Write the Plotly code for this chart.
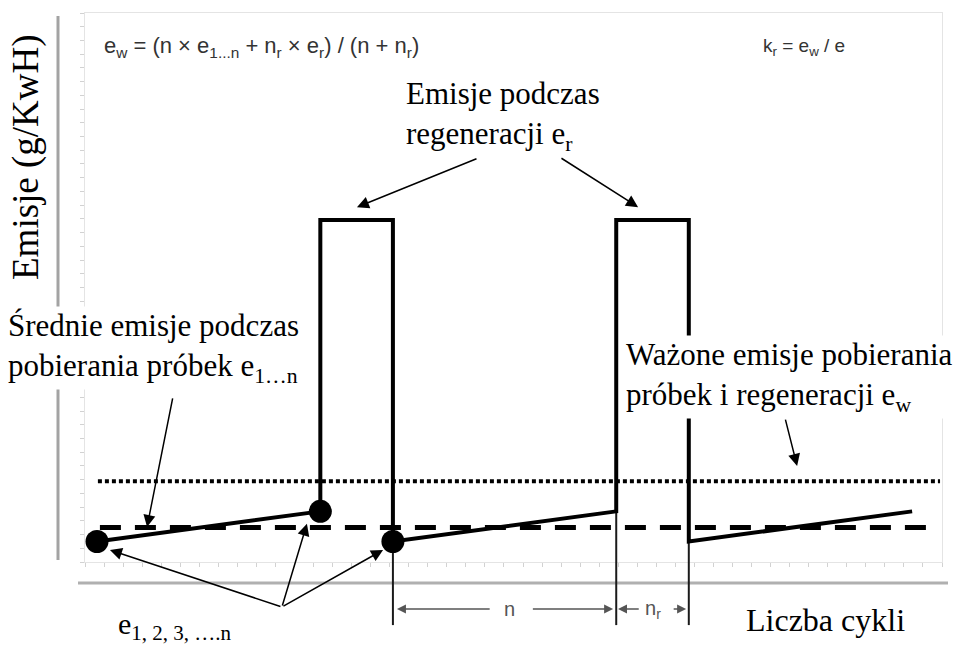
import plotly.graph_objects as go

# ---------------- data (read from the schematic) ----------------
# emission profile: sampling ramps interrupted by regeneration pulses
cycle_points = [0, 10, 10, 13.25, 13.25, 23.25, 23.25, 26.5, 26.5, 36.5]
emission_points = [1.0, 1.75, 9.0, 9.0, 1.0, 1.75, 9.0, 9.0, 1.0, 1.75]
# measured sample points e1, e2, ... en
sample_cycles = [0, 10, 13.25]
sample_emissions = [1.0, 1.75, 1.0]
# regeneration window edges (n and n_r brackets)
edge_cycles = [13.25, 23.25, 26.5]
edge_emissions = [1.0, 1.75, 1.0]
mean_emission = 1.35        # e (dashed)
weighted_emission = 2.5     # e_w (dotted)
line_x_from = [0.13, 0.04]
line_x_to = [37.26, 37.75]

W, H = 955, 649
X_RANGE = [-4.344, 38.42]
Y_RANGE = [-1.675, 14.474]


def PX(x):
    return x / W


def PY(y):
    return 1 - y / H


SERIF = "Liberation Serif, Times New Roman, serif"
SANS = "Liberation Sans, Arial, sans-serif"

fig = go.Figure()

# dummy trace to keep the frame subplot
fig.add_trace(go.Scatter(x=[None], y=[None], xaxis="x", yaxis="y",
                         showlegend=False, hoverinfo="skip"))

# thin edges going down to the cycle brackets
bx, by = [], []
bottom_val = -1.08
for c, e in zip(edge_cycles, edge_emissions):
    bx += [c, c, None]
    by += [e, bottom_val, None]
fig.add_trace(go.Scatter(x=bx, y=by, mode="lines", xaxis="x2", yaxis="y2",
                         line=dict(color="#1a1a1a", width=2),
                         showlegend=False, hoverinfo="skip"))

# weighted emission (dotted)
fig.add_trace(go.Scatter(x=[line_x_from[1], line_x_to[1]],
                         y=[weighted_emission, weighted_emission],
                         mode="lines", xaxis="x2", yaxis="y2",
                         line=dict(color="black", width=4, dash="4px,3px"),
                         showlegend=False, hoverinfo="skip"))
# mean emission (dashed)
fig.add_trace(go.Scatter(x=[line_x_from[0], line_x_to[0]],
                         y=[mean_emission, mean_emission],
                         mode="lines", xaxis="x2", yaxis="y2",
                         line=dict(color="black", width=5, dash="21px,14px"),
                         showlegend=False, hoverinfo="skip"))
# profile
fig.add_trace(go.Scatter(x=cycle_points, y=emission_points, mode="lines",
                         xaxis="x2", yaxis="y2",
                         line=dict(color="black", width=4),
                         showlegend=False, hoverinfo="skip"))
# sample points
fig.add_trace(go.Scatter(x=sample_cycles, y=sample_emissions, mode="markers",
                         xaxis="x2", yaxis="y2",
                         marker=dict(color="black", size=23),
                         showlegend=False, hoverinfo="skip"))

ann = []


def arrow(hx, hy, tx, ty, color="black", width=1.5, size=1.6):
    ann.append(dict(x=hx, y=hy, ax=tx, ay=ty, xref="x2", yref="y2",
                    axref="x2", ayref="y2", text="", showarrow=True,
                    arrowhead=2, arrowsize=size, arrowwidth=width,
                    arrowcolor=color, standoff=0, startstandoff=0))


# regeneration label arrows
arrow(11.64, 9.32, 17.06, 10.54)
arrow(24.23, 9.32, 20.73, 10.56)
# mean emission arrow
arrow(2.24, 1.36, 3.40, 4.60)
# weighted emission arrow
arrow(31.35, 2.88, 30.81, 4.07)
# sample point arrows
arrow(0.58, 0.79, 8.28, -0.63)
arrow(9.40, 1.44, 8.28, -0.63)
arrow(12.81, 0.79, 8.28, -0.63)

# cycle brackets n and n_r
dim_y = -0.68
n_mid = (edge_cycles[0] + edge_cycles[1]) / 2
nr_mid = (edge_cycles[1] + edge_cycles[2]) / 2
arrow(edge_cycles[0] + 0.18, dim_y, n_mid - 0.6, dim_y, color="#555", width=1.5, size=1.2)
arrow(edge_cycles[1] - 0.14, dim_y, n_mid + 1.2, dim_y, color="#555", width=1.5, size=1.2)
arrow(edge_cycles[1] + 0.08, dim_y, nr_mid - 0.55, dim_y, color="#555", width=1.5, size=1.2)
arrow(edge_cycles[2] - 0.12, dim_y, nr_mid + 0.88, dim_y, color="#555", width=1.5, size=1.2)
ann.append(dict(x=n_mid + 0.2, y=dim_y, xref="x2", yref="y2", text="n",
                showarrow=False, font=dict(family=SANS, size=20, color="#555")))
ann.append(dict(x=nr_mid, y=dim_y, xref="x2", yref="y2", text="n<sub>r</sub>",
                showarrow=False, font=dict(family=SANS, size=20, color="#555")))


def label(x, y, text, size=31, family=SERIF, color="black", xanchor="left",
          yanchor="middle", bg=None, angle=0, align="left"):
    d = dict(x=PX(x), y=PY(y), xref="paper", yref="paper", text=text,
             showarrow=False, xanchor=xanchor, yanchor=yanchor, align=align,
             textangle=angle, font=dict(family=family, size=size, color=color))
    if bg:
        d["bgcolor"] = bg
    ann.append(d)


label(102, 47, "e<sub>w</sub> = (n × e<sub>1...n</sub> + n<sub>r</sub> × e<sub>r</sub>) / (n + n<sub>r</sub>)",
      size=22, family=SANS, color="#333")
label(761, 47, "k<sub>r</sub> = e<sub>w</sub> / e", size=19, family=SANS, color="#333")
label(404, 116, "Emisje podczas<br>regeneracji e<sub>r</sub>")
label(6, 348, "Średnie emisje podczas<br>pobierania próbek e<sub>1…n</sub>", bg="white")
label(624, 377, "Ważone emisje pobierania<br>próbek i regeneracji e<sub>w</sub>", bg="white")
label(744, 620, "Liczba cykli", size=32)
label(116, 626, "e<sub>1, 2, 3, ….n</sub>", size=30)
label(26, 157, "Emisje (g/KwH)", xanchor="center", angle=-90, size=37)

shapes = [
    # left vertical guide
    dict(type="line", xref="paper", yref="paper", x0=PX(58), x1=PX(58),
         y0=PY(16), y1=PY(560), line=dict(color="#a3a3a3", width=3), layer="below"),
    # horizontal axis line
    dict(type="line", xref="paper", yref="paper", x0=PX(78), x1=PX(948),
         y0=PY(583), y1=PY(583), line=dict(color="#b0b0b0", width=3), layer="below"),
]

frame_axis = dict(showline=True, mirror=True, linecolor="#e4e4e4", linewidth=1,
                  ticks="outside", ticklen=4, tickcolor="#d2d2d2", tickwidth=1,
                  showticklabels=False, showgrid=False, zeroline=False,
                  dtick=1, tick0=0, fixedrange=True)

fig.update_layout(
    width=W, height=H,
    margin=dict(l=0, r=0, t=0, b=0),
    paper_bgcolor="white", plot_bgcolor="rgba(0,0,0,0)",
    showlegend=False,
    xaxis=dict(domain=[PX(85), PX(942)], range=[0, 45], anchor="y", **frame_axis),
    yaxis=dict(domain=[PY(562), PY(13)], range=[0, 40], anchor="x", **frame_axis),
    xaxis2=dict(domain=[0, 1], range=X_RANGE, visible=False, anchor="y2", fixedrange=True),
    yaxis2=dict(domain=[0, 1], range=Y_RANGE, visible=False, anchor="x2", fixedrange=True),
    annotations=ann,
    shapes=shapes,
)

fig.write_html("out.html", config={"staticPlot": True},
               post_script="document.body.style.margin='0';document.body.style.overflow='hidden';")
